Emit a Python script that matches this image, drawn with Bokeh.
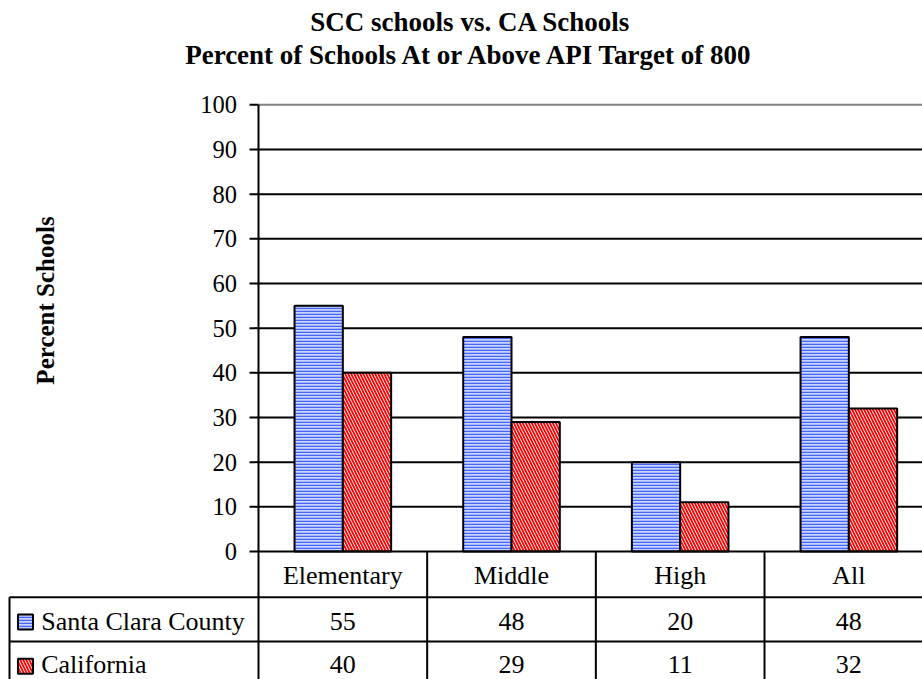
import math
from bokeh.plotting import figure
from bokeh.models import Range1d
from bokeh.embed import file_html
from bokeh.resources import INLINE
from bokeh.core.properties import value

# ---------------- data ----------------
categories = ["Elementary", "Middle", "High", "All"]
series_names = ["Santa Clara County", "California"]
scc_values = [55, 48, 20, 48]
ca_values = [40, 29, 11, 32]
y_ticks = [0, 10, 20, 30, 40, 50, 60, 70, 80, 90, 100]
title_lines = ["SCC schools vs. CA Schools",
               "Percent of Schools At or Above API Target of 800"]
y_label = "Percent Schools"

# ---------------- layout constants (canvas pixels) ----------------
FONT = "Liberation Serif"
W, H = 922, 679
AXIS_X = 258.0      # x of the value axis
COL_W = 168.67      # width of one category column
Y0 = 551.0          # y of value 0
PXU = 4.467         # pixels per percent


def cx(px):
    return (px - AXIS_X) / COL_W


def vy(py):
    return (Y0 - py) / PXU


n = len(categories)
centers = [i + 0.5 for i in range(n)]
bar_w = 48.3 / COL_W
x_end = cx(W)
y_bot = vy(H)
y_max = y_ticks[-1]

scc_style = dict(fill_color="#c8d3ff", hatch_pattern="horizontal_line",
                 hatch_color="#4466ff", hatch_scale=3, hatch_weight=1.5,
                 line_color="black", line_width=2)
ca_style = dict(fill_color="white", hatch_pattern="left_diagonal_line",
                hatch_color="#ff0000", hatch_scale=6, hatch_weight=1.8,
                line_color="black", line_width=2)

p = figure(width=W, height=H,
           x_range=Range1d(cx(0), x_end), y_range=Range1d(y_bot, vy(0)),
           output_backend="svg", toolbar_location=None,
           x_axis_location=None, y_axis_location=None, min_border=0)
p.outline_line_color = None
p.background_fill_color = "white"
p.border_fill_color = "white"
p.grid.visible = False

line_kw = dict(line_color="black", line_width=2)
txt_kw = dict(text_font=value(FONT), text_color="black", text_baseline="middle")

# gridlines (inside the plot area, right of the value axis)
inner = y_ticks[1:-1]
p.segment(x0=[0] * len(inner), y0=inner, x1=[n] * len(inner), y1=inner, **line_kw)
p.segment(x0=[0], y0=[y_max], x1=[n], y1=[y_max], line_color="#808080", line_width=2)

# bars
p.vbar(x=[c - bar_w / 2 for c in centers], top=scc_values, bottom=0,
       width=bar_w, **scc_style)
p.vbar(x=[c + bar_w / 2 for c in centers], top=ca_values, bottom=0,
       width=bar_w, **ca_style)

# value axis: line, ticks, tick labels, title
p.segment(x0=[0], y0=[y_max], x1=[0], y1=[y_bot], **line_kw)
p.segment(x0=[cx(249)] * len(y_ticks), y0=y_ticks,
          x1=[0] * len(y_ticks), y1=y_ticks, **line_kw)
p.text(x=[cx(236.5)] * len(y_ticks), y=y_ticks, text=[str(t) for t in y_ticks],
       text_align="right", text_font_size="24.5px", **txt_kw)
p.text(x=[cx(45)], y=[vy(300)], text=[y_label], angle=math.pi / 2,
       text_align="center", text_font_size="25px", text_font_style="bold",
       **txt_kw)

# chart title
p.text(x=[cx(470)] * 2, y=[vy(21.5), vy(54.8)], text=title_lines,
       text_align="center", text_font_size="27px", text_font_style="bold",
       **txt_kw)

# ---------------- data table ----------------
row_lines = [596.7, 641.0]
left_x = cx(9)
p.segment(x0=[0], y0=[0], x1=[n], y1=[0], **line_kw)
p.segment(x0=[left_x] * 2, y0=[vy(r) for r in row_lines],
          x1=[n] * 2, y1=[vy(r) for r in row_lines], **line_kw)
p.segment(x0=[left_x], y0=[vy(row_lines[0])], x1=[left_x], y1=[y_bot], **line_kw)
p.segment(x0=list(range(1, n + 1)), y0=[0] * n,
          x1=list(range(1, n + 1)), y1=[y_bot] * n, **line_kw)

p.text(x=centers, y=[vy(574.5)] * n, text=categories,
       text_align="center", text_font_size="26px", **txt_kw)

row_mid = [620.8, 664.2]
swatch_mid = [621.5, 665.8]
p.rect(x=[cx(25)], y=[vy(swatch_mid[0])], width=15, height=15,
       width_units="screen", height_units="screen", **scc_style)
p.rect(x=[cx(25)], y=[vy(swatch_mid[1])], width=15, height=15,
       width_units="screen", height_units="screen", **ca_style)
p.text(x=[cx(40.7)] * 2, y=[vy(m) for m in row_mid], text=series_names,
       text_align="left", text_font_size="26px", **txt_kw)
p.text(x=centers, y=[vy(row_mid[0])] * n, text=[str(v) for v in scc_values],
       text_align="center", text_font_size="26px", **txt_kw)
p.text(x=centers, y=[vy(row_mid[1])] * n, text=[str(v) for v in ca_values],
       text_align="center", text_font_size="26px", **txt_kw)

open("out.html", "w").write(file_html(p, INLINE))
